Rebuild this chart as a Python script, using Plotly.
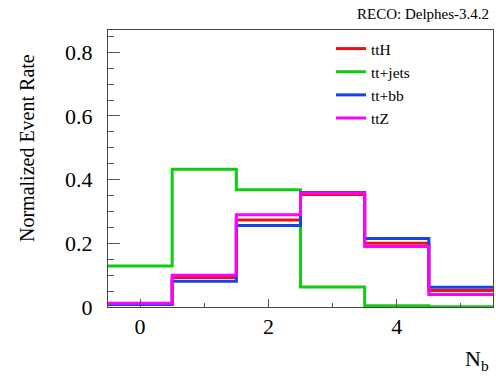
import plotly.graph_objects as go

# Data
bin_edges = [-0.5, 0.5, 1.5, 2.5, 3.5, 4.5, 5.5]
series_names = ["ttH", "tt+jets", "tt+bb", "ttZ"]
ttH = [0.010, 0.093, 0.273, 0.353, 0.200, 0.052]
tt_jets = [0.129, 0.433, 0.368, 0.063, 0.004, 0.001]
tt_bb = [0.008, 0.081, 0.256, 0.360, 0.215, 0.062]
ttZ = [0.012, 0.100, 0.290, 0.358, 0.190, 0.039]
x_tick_vals = [0, 2, 4]
y_tick_vals = [0, 0.2, 0.4, 0.6, 0.8]
y_tick_text = ["0", "0.2", "0.4", "0.6", "0.8"]
colors = ["#ee1111", "#11cc11", "#1144ee", "#ff00ff"]

W, H = 496, 376
L, R, T, B = 108, 3, 30, 69
FONT = "Liberation Serif"

fig = go.Figure()
for name, vals, col in zip(series_names, [ttH, tt_jets, tt_bb, ttZ], colors):
    fig.add_trace(go.Scatter(
        x=bin_edges, y=vals + [vals[-1]], name=name, mode="lines",
        line=dict(color=col, width=3, shape="hv"),
    ))

def px_x(p):
    return (p - L) / (W - L - R)

def px_y(p):
    return (H - B - p) / (H - T - B)

fig.update_layout(
    width=W, height=H,
    margin=dict(l=L, r=R, t=T, b=B),
    paper_bgcolor="white", plot_bgcolor="white",
    font=dict(family=FONT, color="black"),
    showlegend=True,
    legend=dict(
        x=px_x(331), y=px_y(32), xanchor="left", yanchor="top",
        bgcolor="rgba(0,0,0,0)", font=dict(family=FONT, size=15.5),
        tracegroupgap=0, itemwidth=30,
    ),
    xaxis=dict(
        range=[-0.5, 5.5], showgrid=False, zeroline=False,
        showline=True, linecolor="#444", linewidth=1, mirror=True,
        ticks="inside", ticklen=8, tickcolor="#555", tickwidth=1,
        tickvals=x_tick_vals, tickfont=dict(family=FONT, size=22, color="black"),
        minor=dict(ticks="inside", ticklen=4, dtick=1, tickcolor="#555", showgrid=False),
        ticklabelstandoff=0,
    ),
    yaxis=dict(
        range=[0, 0.87], showgrid=False, zeroline=False,
        showline=True, linecolor="#444", linewidth=1, mirror=True,
        ticks="inside", ticklen=12, tickcolor="#555", tickwidth=1,
        tickfont=dict(family=FONT, size=22, color="black"),
        tickvals=y_tick_vals, ticktext=y_tick_text,
        minor=dict(ticks="inside", ticklen=6, dtick=0.05, tickcolor="#555", showgrid=False),
        ticklabelstandoff=10,
    ),
    annotations=[
        dict(text="RECO: Delphes-3.4.2", xref="paper", yref="paper",
             x=px_x(491), y=px_y(14), xanchor="right", yanchor="middle",
             showarrow=False, font=dict(family=FONT, size=15)),
        dict(text="N<sub>b</sub>", xref="paper", yref="paper",
             x=px_x(491), y=px_y(360), xanchor="right", yanchor="middle",
             showarrow=False, font=dict(family=FONT, size=22)),
        dict(text="Normalized Event Rate", xref="paper", yref="paper",
             x=px_x(27), y=px_y(148), xanchor="center", yanchor="middle",
             textangle=-90, showarrow=False, font=dict(family=FONT, size=20)),
    ],
)

fig.write_html(
    "out.html",
    config={"displayModeBar": False},
    post_script="document.body.style.margin='0px';document.body.style.padding='0px';",
)
